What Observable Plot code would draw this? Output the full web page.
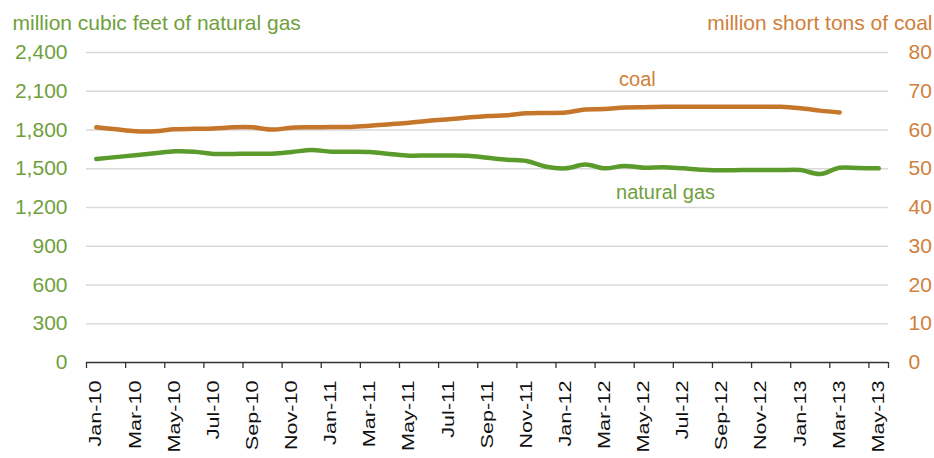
<!DOCTYPE html>
<html><head><meta charset="utf-8">
<script src="https://cdn.jsdelivr.net/npm/d3@7"></script>
<script src="https://cdn.jsdelivr.net/npm/@observablehq/plot@0.6"></script>
<style>body{margin:0;background:#fff;} svg{display:block}</style>
</head><body><div id="chart"></div>
<script>
const months = ["Jan-10","Feb-10","Mar-10","Apr-10","May-10","Jun-10","Jul-10","Aug-10","Sep-10","Oct-10","Nov-10","Dec-10",
"Jan-11","Feb-11","Mar-11","Apr-11","May-11","Jun-11","Jul-11","Aug-11","Sep-11","Oct-11","Nov-11","Dec-11",
"Jan-12","Feb-12","Mar-12","Apr-12","May-12","Jun-12","Jul-12","Aug-12","Sep-12","Oct-12","Nov-12","Dec-12",
"Jan-13","Feb-13","Mar-13","Apr-13","May-13"];
const gas = [1576,1590,1605,1620,1635,1632,1615,1615,1617,1617,1630,1645,
1632,1632,1630,1615,1601,1603,1603,1600,1585,1570,1560,1516,
1503,1532,1503,1522,1508,1512,1503,1493,1488,1490,1490,1490,
1490,1459,1508,1505,1503];
const coal = [60.7,60.2,59.7,59.7,60.2,60.3,60.4,60.7,60.7,60.1,60.6,60.7,
60.8,60.8,61.1,61.5,61.9,62.4,62.8,63.2,63.6,63.8,64.3,64.4,
64.5,65.3,65.4,65.8,65.9,66.0,66.0,66.0,66.0,66.0,66.0,66.0,
65.6,65.0,64.5];
const gasTicks = [0,300,600,900,1200,1500,1800,2100,2400];
const coalTicks = [0,10,20,30,40,50,60,70,80];
const gasTitle = "million cubic feet of natural gas";
const coalTitle = "million short tons of coal";
const gasName = "natural gas";
const coalName = "coal";

const ratio = gasTicks[gasTicks.length-1] / coalTicks[coalTicks.length-1];
const gasData = gas.map((v,i)=>({i, v}));
const coalData = coal.map((v,i)=>({i, v: v*ratio}));
const labelIdx = months.map((m,i)=>i).filter(i=>i%2===0);
const boundaries = labelIdx.map(i=>i-0.5).concat([months.length-0.5]);

const GREEN = "#5A9B2C", ORANGE = "#C5762B";
const GREEN_T = "#6FA03C", ORANGE_T = "#D0803A";

const plot = Plot.plot({
  width:934, height:458,
  marginLeft:86, marginRight:46, marginTop:52, marginBottom:96,
  x:{type:"linear", domain:[-0.5, months.length-0.5]},
  y:{domain:[0, gasTicks[gasTicks.length-1]]},
  style:{fontFamily:"'Liberation Sans', Arial, sans-serif", background:"#fff"},
  marks:[
    Plot.gridY(gasTicks.slice(1), {stroke:"#d9d9d9", strokeOpacity:1, strokeWidth:1.5}),
    Plot.axisY(gasTicks, {anchor:"left", tickSize:0, tickPadding:19, tickFormat:d3.format(","), fontSize:21, color:GREEN_T, label:null}),
    Plot.axisY(gasTicks, {anchor:"right", tickSize:0, tickPadding:20, tickFormat:d=>String(d/ratio), fontSize:21, color:ORANGE_T, label:null}),
    Plot.ruleY([0], {stroke:"#333", strokeWidth:1.5}),
    Plot.axisX(boundaries, {tickSize:6, tickFormat:()=>"", stroke:"#333", strokeWidth:1.3, label:null}),
    Plot.axisX(labelIdx, {tickSize:0, tickPadding:18, tickRotate:-90, tickFormat:i=>months[i], fontSize:16, color:"#111", label:null}),
    Plot.line(coalData, {x:"i", y:"v", stroke:ORANGE, strokeWidth:4.5, curve:"catmull-rom"}),
    Plot.line(gasData, {x:"i", y:"v", stroke:GREEN, strokeWidth:4.5, curve:"catmull-rom"}),
    Plot.text(coalData.filter(d=>d.i===27), {x:"i", y:"v", text:()=>coalName, dx:13, dy:-28, fontSize:20, fill:ORANGE_T}),
    Plot.text(gasData.filter(d=>d.i===29), {x:"i", y:"v", text:()=>gasName, dx:2, dy:25, fontSize:20, fill:GREEN_T}),
    Plot.text([gasTitle], {frameAnchor:"top-left", dx:-74, dy:-37, textAnchor:"start", fontSize:21, fill:GREEN_T}),
    Plot.text([coalTitle], {frameAnchor:"top-right", dx:44, dy:-37, textAnchor:"end", fontSize:21, fill:ORANGE_T})
  ]
});
document.getElementById("chart").appendChild(plot);
// stretch rotated month labels along their reading direction
d3.select(plot).selectAll('g[aria-label="x-axis tick label"] text').each(function(){
  const t = this.getAttribute("transform") || "";
  this.setAttribute("transform", t + " scale(1.35,1)");
});
</script>
</body></html>
